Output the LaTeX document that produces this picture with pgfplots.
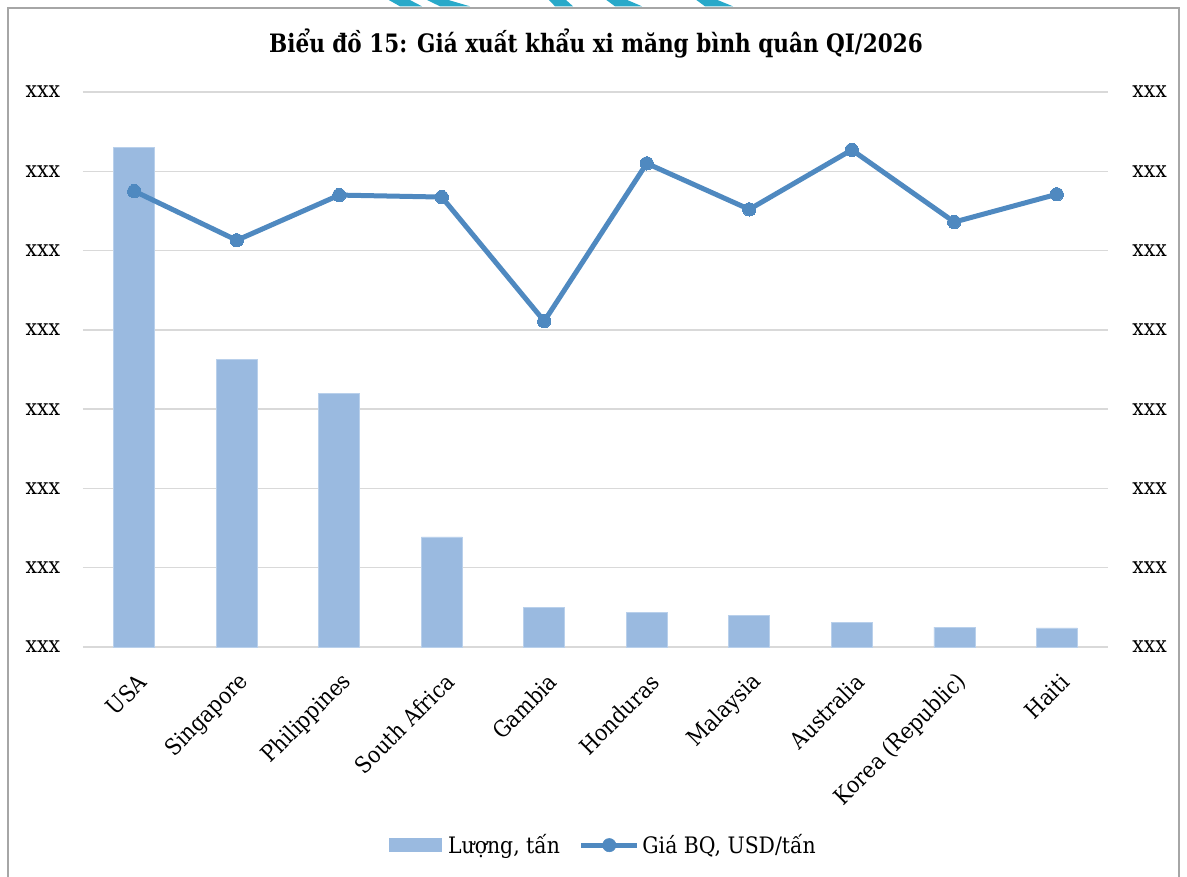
\documentclass[border=0pt]{standalone}
\usepackage{pgfplots}
\pgfplotsset{compat=1.18}
\usepackage{fontspec}
\setmainfont{DejaVu Serif}
\newfontfamily\lblfont[FakeStretch=0.9]{DejaVu Serif}
\newfontfamily\ttlfont[FakeStretch=0.85]{DejaVu Serif}
\definecolor{barcol}{RGB}{154,186,224}
\definecolor{baredge}{RGB}{185,208,235}
\definecolor{linecol}{RGB}{79,137,192}
\definecolor{gridcol}{RGB}{217,217,217}
\definecolor{framecol}{RGB}{166,166,166}
\definecolor{stripe}{RGB}{41,169,201}
\begin{document}
\begin{tikzpicture}
\useasboundingbox (-62.25pt,-171.75pt) rectangle (828pt,485.25pt);
% frame
\draw[framecol, line width=1.5pt] (-56.6pt,-200pt) -- (-56.6pt,479.6pt) -- (822pt,479.6pt) -- (822pt,-200pt);
% decorative stripes at top
\foreach \a/\b/\c/\d in {387/408/400/422, 425/445/440/470, 548/565/555/573, 605/625/615/642, 695/715/705/733}{
  \fill[stripe] ({(\a-83)*0.75pt},486pt) -- ({(\b-83)*0.75pt},486pt) -- ({(\d-83)*0.75pt},480.5pt) -- ({(\c-83)*0.75pt},480.5pt) -- cycle;
}
\begin{axis}[
  at={(0,0)}, anchor=south west,
  scale only axis, width=768.75pt, height=416.25pt,
  xmin=-0.5, xmax=9.5, ymin=0, ymax=7,
  axis line style={draw=none},
  major tick length=0pt,
  ytick={0,...,7},
  yticklabels={xxx,xxx,xxx,xxx,xxx,xxx,xxx,xxx},
  yticklabel style={font=\lblfont\fontsize{17}{19}\selectfont, inner sep=0pt, xshift=-17pt, anchor=east},
  ymajorgrids, major grid style={gridcol, line width=1.1pt},
  xtick={0,...,9},
  xticklabels={USA,Singapore,Philippines,South Africa,Gambia,Honduras,Malaysia,Australia,Korea (Republic),Haiti},
  xticklabel style={font=\lblfont\fontsize{17}{19}\selectfont, rotate=45, anchor=east, inner sep=0pt, xshift=-12pt, yshift=-21pt},
]
\addplot[ybar, bar width=30.75pt, fill=barcol, draw=baredge, line width=0.4pt] coordinates {
 (0,6.30) (1,3.63) (2,3.20) (3,1.39) (4,0.50) (5,0.44) (6,0.40) (7,0.315) (8,0.252) (9,0.24)};
\end{axis}
\begin{axis}[
  at={(0,0)}, anchor=south west,
  scale only axis, width=768.75pt, height=416.25pt,
  xmin=-0.5, xmax=9.5, ymin=0, ymax=7,
  axis x line=none, axis y line*=right,
  axis line style={draw=none},
  major tick length=0pt,
  ytick={0,...,7},
  yticklabels={xxx,xxx,xxx,xxx,xxx,xxx,xxx,xxx},
  yticklabel style={font=\lblfont\fontsize{17}{19}\selectfont, inner sep=0pt, xshift=18pt, anchor=west},
  legend style={at={(0.508,-0.357)}, anchor=center, draw=none, fill=none,
    font=\lblfont\fontsize{17}{19}\selectfont, /tikz/every even column/.append style={column sep=12pt}},
  legend columns=2,
  legend cell align=left,
]
\addlegendimage{legend image code/.code={\fill[barcol] (0pt,-4.9pt) rectangle (39pt,4.9pt); \path (42pt,0pt);}}
\addlegendentry{Lượng, tấn}
\addlegendimage{legend image code/.code={\draw[linecol, line width=3.75pt] (0pt,0pt) -- (42pt,0pt); \fill[linecol] (21pt,0pt) circle (5pt);}}
\addlegendentry{Giá BQ, USD/tấn}
\addplot[linecol, line width=3.75pt, mark=*, mark size=5pt, mark options={fill=linecol, draw=linecol, line width=0pt}] coordinates {
 (0,5.75) (1,5.13) (2,5.70) (3,5.675) (4,4.11) (5,6.10) (6,5.52) (7,6.27) (8,5.36) (9,5.71)};
\end{axis}
\node[anchor=base, font=\ttlfont\bfseries\fontsize{19}{22}\selectfont] at (384.75pt,445.5pt) {Biểu đồ 15: Giá xuất khẩu xi măng bình quân QI/2026};
\end{tikzpicture}
\end{document}
